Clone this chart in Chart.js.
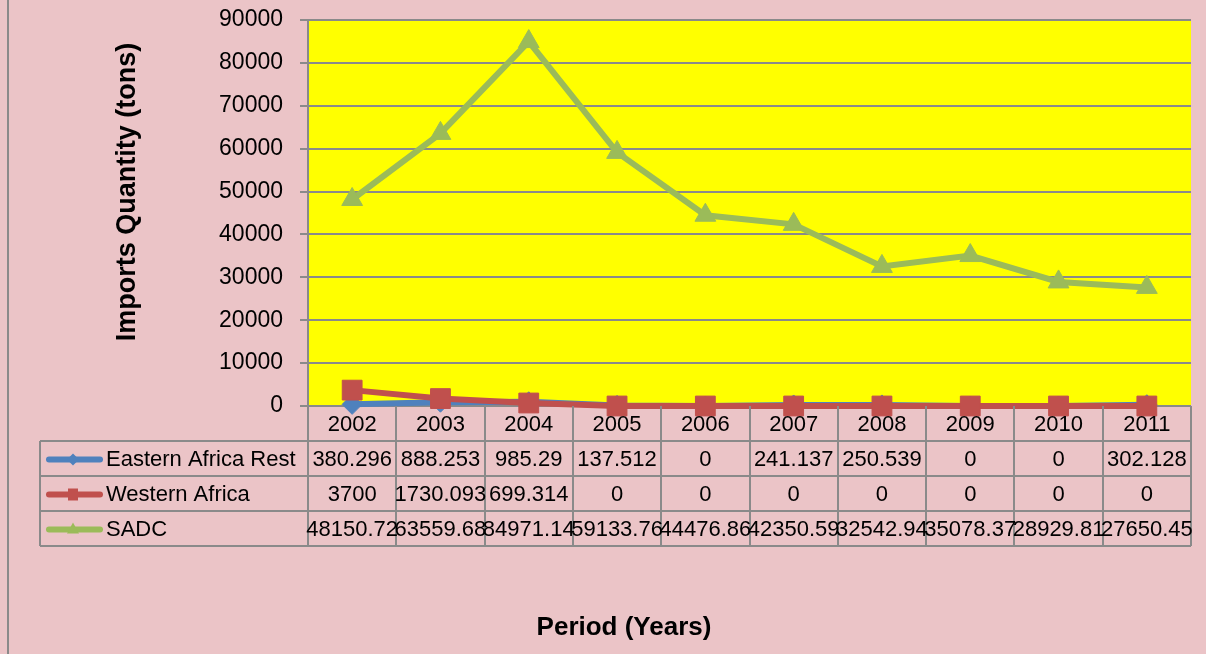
<!DOCTYPE html>
<html>
<head>
<meta charset="utf-8">
<script src="https://cdn.jsdelivr.net/npm/chart.js@4.4.1/dist/chart.umd.min.js"></script>
<style>
  html, body { margin: 0; padding: 0; background: #ebc4c7; }
  #c { display: block; }
</style>
</head>
<body>
<canvas id="c" width="1206" height="654"></canvas>
<script>
// ---- data ----
const categories = ['2002', '2003', '2004', '2005', '2006', '2007', '2008', '2009', '2010', '2011'];
const seriesNames = ['Eastern Africa Rest', 'Western Africa', 'SADC'];
const easternAfricaRest = [380.296, 888.253, 985.29, 137.512, 0, 241.137, 250.539, 0, 0, 302.128];
const westernAfrica = [3700, 1730.093, 699.314, 0, 0, 0, 0, 0, 0, 0];
const sadc = [48150.72, 63559.68, 84971.14, 59133.76, 44476.86, 42350.59, 32542.94, 35078.37, 28929.81, 27650.45];
const yMin = 0, yMax = 90000, yStep = 10000;
const yTitle = 'Imports Quantity (tons)';
const xTitle = 'Period (Years)';

const seriesValues = [easternAfricaRest, westernAfrica, sadc];
const colors = ['#4f81bd', '#c0504d', '#9bbb59'];
const styles = ['rectRot', 'rect', 'triangle'];
const FONT = '"Liberation Sans", Arial, sans-serif';
const GRID = '#8a8a8a';

const decorPlugin = {
  id: 'decor',
  beforeDraw(chart) {
    const ctx = chart.ctx, a = chart.chartArea;
    ctx.save();
    ctx.fillStyle = '#ebc4c7';
    ctx.fillRect(0, 0, chart.width, chart.height);
    ctx.fillStyle = '#ffff00';
    ctx.fillRect(a.left, a.top, a.right - a.left, a.bottom - a.top);
    // outer left border
    ctx.fillStyle = GRID;
    ctx.fillRect(7, 0, 2, chart.height);
    ctx.restore();
  },
  afterDraw(chart) {
    const ctx = chart.ctx, a = chart.chartArea, xs = chart.scales.x;
    const n = categories.length;
    const cw = (a.right - a.left) / n;
    const rowH = 35;
    const tableLeft = 40;
    const top = a.bottom;
    const rowsTop = top + rowH;
    const bottom = rowsTop + rowH * seriesNames.length;
    ctx.save();
    ctx.strokeStyle = GRID;
    ctx.lineWidth = 2;
    ctx.beginPath();
    // horizontal lines
    for (let r = 0; r <= seriesNames.length; r++) {
      const y = rowsTop + r * rowH;
      ctx.moveTo(tableLeft, y); ctx.lineTo(a.right, y);
    }
    // vertical lines
    ctx.moveTo(tableLeft, rowsTop); ctx.lineTo(tableLeft, bottom);
    for (let k = 0; k <= n; k++) {
      const x = Math.round(a.left + k * cw);
      ctx.moveTo(x, top); ctx.lineTo(x, bottom);
    }
    ctx.stroke();

    // header (years)
    ctx.fillStyle = '#000';
    ctx.font = '22px ' + FONT;
    ctx.textAlign = 'center';
    ctx.textBaseline = 'middle';
    categories.forEach((c, i) => {
      ctx.fillText(c, xs.getPixelForValue(i), top + rowH / 2 + 1);
    });
    // rows
    seriesNames.forEach((name, r) => {
      const cy = rowsTop + r * rowH + rowH / 2 + 1;
      // legend key
      ctx.strokeStyle = colors[r];
      ctx.lineWidth = 6;
      ctx.lineCap = 'round';
      ctx.beginPath();
      ctx.moveTo(49, cy); ctx.lineTo(100, cy);
      ctx.stroke();
      ctx.fillStyle = colors[r];
      const mx = 73;
      ctx.beginPath();
      if (styles[r] === 'rectRot') {
        ctx.moveTo(mx, cy - 6); ctx.lineTo(mx + 6, cy); ctx.lineTo(mx, cy + 6); ctx.lineTo(mx - 6, cy); ctx.closePath();
      } else if (styles[r] === 'rect') {
        ctx.rect(mx - 5, cy - 6, 10, 12);
      } else {
        ctx.moveTo(mx, cy - 7); ctx.lineTo(mx + 6, cy + 4); ctx.lineTo(mx - 6, cy + 4); ctx.closePath();
      }
      ctx.fill();
      // label
      ctx.fillStyle = '#000';
      ctx.textAlign = 'left';
      ctx.fillText(name, 106, cy);
      ctx.textAlign = 'center';
      seriesValues[r].forEach((v, i) => {
        ctx.fillText(String(v), xs.getPixelForValue(i), cy);
      });
    });

    // axis titles
    ctx.font = 'bold 27px ' + FONT;
    ctx.textAlign = 'center';
    ctx.textBaseline = 'middle';
    ctx.save();
    ctx.translate(128, 192);
    ctx.rotate(-Math.PI / 2);
    ctx.fillText(yTitle, 0, 0);
    ctx.restore();
    ctx.font = 'bold 26px ' + FONT;
    ctx.fillText(xTitle, 624, 628);
    ctx.restore();
  }
};

new Chart(document.getElementById('c'), {
  type: 'line',
  data: {
    labels: categories,
    datasets: seriesNames.map((name, i) => ({
      label: name,
      data: seriesValues[i],
      borderColor: colors[i],
      backgroundColor: colors[i],
      pointBackgroundColor: colors[i],
      pointBorderColor: colors[i],
      borderWidth: 6,
      pointStyle: styles[i],
      pointRadius: [10, 14, 12][i],
      pointBorderWidth: 1,
      tension: 0,
      fill: false,
      clip: false,
      order: 3 - i
    }))
  },
  options: {
    responsive: false,
    devicePixelRatio: 1,
    animation: false,
    layout: { padding: { left: 0, top: 20, right: 14, bottom: 248 } },
    plugins: { legend: { display: false }, tooltip: { enabled: false } },
    scales: {
      x: { display: false, offset: true },
      y: {
        min: yMin, max: yMax,
        afterFit: (s) => { s.width = 308; s.paddingTop = 0; s.paddingBottom = 0; },
        ticks: {
          stepSize: yStep,
          color: '#000',
          padding: 17,
          font: { family: FONT, size: 23 },
          callback: (v) => String(v)
        },
        grid: { color: GRID, lineWidth: 2, tickLength: 8, drawTicks: true },
        border: { display: true, color: GRID, width: 2 }
      }
    }
  },
  plugins: [decorPlugin]
});
</script>
</body>
</html>
